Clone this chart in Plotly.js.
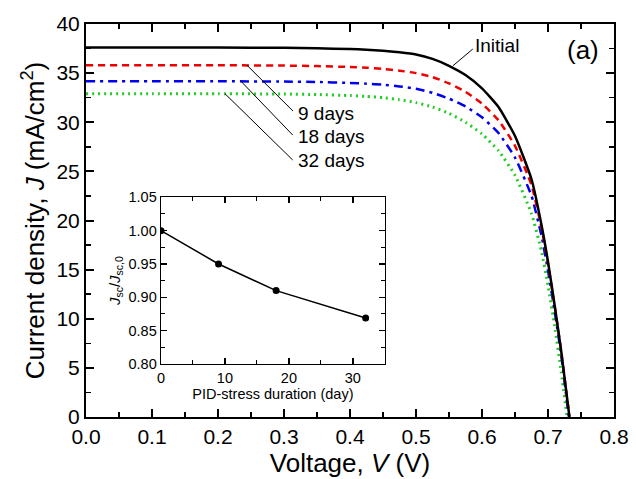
<!DOCTYPE html>
<html>
<head>
<meta charset="utf-8">
<script src="https://cdn.plot.ly/plotly-3.0.1.min.js"></script>
<style>html,body{margin:0;padding:0;background:#fff;}#chart{width:636px;height:479px;}</style>
</head>
<body>
<div id="chart"></div>
<script>
// Voltage grid (V)
const voltage = [0, 0.1, 0.2, 0.3, 0.35, 0.4, 0.425, 0.45, 0.475, 0.5, 0.525, 0.55, 0.575, 0.6, 0.625, 0.65, 0.675, 0.69, 0.70, 0.71, 0.72];
// Current density (mA/cm2)
const jInitial = [37.6, 37.6, 37.6, 37.57, 37.53, 37.45, 37.38, 37.28, 37.12, 36.9, 36.45, 35.75, 34.8, 33.45, 31.55, 28.6, 24.2, 19.6, 15.8, 11.4, 6.7];
const j9days   = [35.8, 35.8, 35.8, 35.77, 35.72, 35.62, 35.55, 35.42, 35.25, 35.0, 34.6, 33.95, 33.1, 31.9, 30.2, 27.6, 23.6, 19.3, 15.6, 11.3, 6.7];
const j18days  = [34.17, 34.17, 34.17, 34.14, 34.1, 34.0, 33.93, 33.82, 33.65, 33.4, 33.0, 32.4, 31.6, 30.5, 28.9, 26.4, 22.5, 18.5, 14.9, 10.8, 6.3];
const j32days  = [32.9, 32.9, 32.9, 32.87, 32.82, 32.72, 32.63, 32.5, 32.3, 32.0, 31.55, 30.9, 30.0, 28.8, 27.1, 24.6, 20.7, 16.9, 13.4, 9.3, 4.6];
// Open-circuit voltages (J = 0)
const vocs = [0.7325, 0.7325, 0.7315, 0.729];

// Inset data
const stressDays = [0, 9, 18, 32];
const jscRatio = [1.00, 0.95, 0.91, 0.869];

const seriesNames = ["Initial", "9 days", "18 days", "32 days"];

function withVoc(j, voc){ return {x: voltage.concat([voc]), y: j.concat([0])}; }

const FONT = "Liberation Sans, Arial, Helvetica, sans-serif";
const s0 = withVoc(jInitial, vocs[0]), s1 = withVoc(j9days, vocs[1]), s2 = withVoc(j18days, vocs[2]), s3 = withVoc(j32days, vocs[3]);

const traces = [
  {x: s3.x, y: s3.y, mode: "lines", line: {color: "#22cc22", width: 3, dash: "2px,4px", shape: "spline", smoothing: 0.5}, name: seriesNames[3]},
  {x: s2.x, y: s2.y, mode: "lines", line: {color: "#0000ee", width: 2.5, dash: "9px,5px,3px,5px", shape: "spline", smoothing: 0.5}, name: seriesNames[2]},
  {x: s1.x, y: s1.y, mode: "lines", line: {color: "#ee0000", width: 2.5, dash: "7px,5px", shape: "spline", smoothing: 0.5}, name: seriesNames[1]},
  {x: s0.x, y: s0.y, mode: "lines", line: {color: "#000000", width: 2.5, shape: "spline", smoothing: 0.5}, name: seriesNames[0]},
  {x: stressDays, y: jscRatio, xaxis: "x2", yaxis: "y2", mode: "lines+markers",
   line: {color: "#000", width: 1.5}, marker: {color: "#000", size: 7}}
];

const axMain = {
  showline: true, linecolor: "#000", linewidth: 2, mirror: "allticks",
  ticks: "inside", ticklen: 8, tickwidth: 2, tickcolor: "#000",
  showgrid: false, zeroline: false,
  tickfont: {family: FONT, size: 21, color: "#000"}
};
const axInset = {
  showline: true, linecolor: "#000", linewidth: 1.3, mirror: "allticks",
  ticks: "inside", ticklen: 6, tickwidth: 1.3, tickcolor: "#000",
  showgrid: false, zeroline: false,
  tickfont: {family: FONT, size: 14.5, color: "#000"}
};

const layout = {
  width: 636, height: 479,
  margin: {l: 86, r: 22, t: 24, b: 62},
  paper_bgcolor: "#fff", plot_bgcolor: "#fff",
  showlegend: false,
  font: {family: FONT, color: "#000"},
  xaxis: Object.assign({}, axMain, {
    range: [0, 0.8], dtick: 0.1, tickformat: ".1f",
    minor: {dtick: 0.05, ticklen: 5, tickwidth: 1.5, ticks: "inside", tickcolor: "#000"},
    title: {text: "Voltage, <i>V</i> (V)", font: {family: FONT, size: 26}, standoff: 2}
  }),
  yaxis: Object.assign({}, axMain, {
    range: [0, 40], dtick: 5,
    minor: {dtick: 2.5, ticklen: 5, tickwidth: 1.5, ticks: "inside", tickcolor: "#000"},
    title: {text: "Current density, <i>J</i> (mA/cm<sup>2</sup>)", font: {family: FONT, size: 26}, standoff: 4}
  }),
  xaxis2: Object.assign({}, axInset, {
    domain: [0.142, 0.566], anchor: "y2", range: [0, 35], dtick: 10,
    minor: {dtick: 5, ticklen: 4, tickwidth: 1, ticks: "inside", tickcolor: "#000"},
    title: {text: "PID-stress duration (day)", font: {family: FONT, size: 14.5}, standoff: 1}
  }),
  yaxis2: Object.assign({}, axInset, {
    domain: [0.135, 0.559], anchor: "x2", range: [0.80, 1.05], dtick: 0.05, tickformat: ".2f",
    minor: {dtick: 0.025, ticklen: 4, tickwidth: 1, ticks: "inside", tickcolor: "#000"},
    title: {text: "<i>J</i><sub>sc</sub>/<i>J</i><sub>sc,0</sub>", font: {family: FONT, size: 15}, standoff: 4}
  }),
  shapes: [
    {type: "line", xref: "x", yref: "y", x0: 0.556, y0: 35.75, x1: 0.586, y1: 37.45, line: {color: "#000", width: 1}},
    {type: "line", xref: "x", yref: "y", x0: 0.244, y0: 35.8, x1: 0.3136, y1: 31.14, line: {color: "#000", width: 1}},
    {type: "line", xref: "x", yref: "y", x0: 0.2348, y0: 34.17, x1: 0.3132, y1: 28.7, line: {color: "#000", width: 1}},
    {type: "line", xref: "x", yref: "y", x0: 0.2106, y0: 32.9, x1: 0.3132, y1: 26.16, line: {color: "#000", width: 1}}
  ],
  annotations: [
    {xref: "x", yref: "y", x: 0.587, y: 37.8, text: seriesNames[0], showarrow: false, xanchor: "left", yanchor: "middle", font: {family: FONT, size: 19}},
    {xref: "x", yref: "y", x: 0.318, y: 30.94, text: seriesNames[1], showarrow: false, xanchor: "left", yanchor: "middle", font: {family: FONT, size: 19}},
    {xref: "x", yref: "y", x: 0.318, y: 28.53, text: seriesNames[2], showarrow: false, xanchor: "left", yanchor: "middle", font: {family: FONT, size: 19}},
    {xref: "x", yref: "y", x: 0.318, y: 26.06, text: seriesNames[3], showarrow: false, xanchor: "left", yanchor: "middle", font: {family: FONT, size: 19}},
    {xref: "paper", yref: "paper", x: 0.975, y: 0.935, text: "(a)", showarrow: false, xanchor: "right", yanchor: "middle", font: {family: FONT, size: 26}}
  ]
};

Plotly.newPlot("chart", traces, layout, {displayModeBar: false, staticPlot: true});
</script>
</body>
</html>
